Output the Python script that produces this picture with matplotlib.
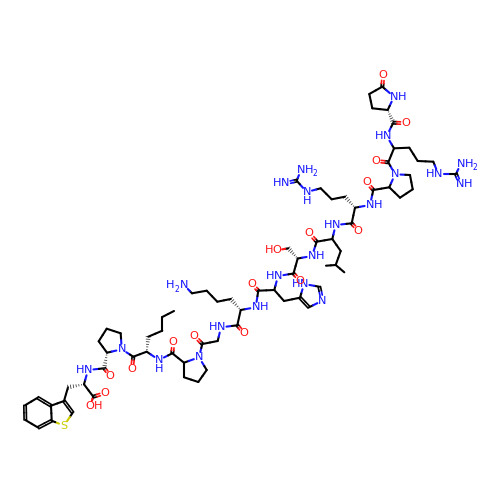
import matplotlib
matplotlib.use('Agg')
import matplotlib.pyplot as plt
import numpy as np

# --- Atoms: id, x, y (image pixels), label ---
atom_ids = [
    # benzothiophene + Ala backbone
    'a1','a2','a3','a4','a5','a6','c3','c2','s1','cb1','ca1','c1','o1','oh1','n1',
    # Pro
    'c2p','o2p','ca2','n2','cd2','cg2','cb2',
    # Nle
    'c3p','o3p','ca3','n3','cb3','cg3','cd3','ce3',
    # Pro
    'c4p','o4p','ca4','n4','cd4','cg4','cb4',
    # Gly
    'c5p','o5p','ca5','n5',
    # Lys
    'c6p','o6p','ca6','n6','cb6','cg6','cd6','ce6','nz6',
    # His
    'c7p','o7p','ca7','n7','cb7','cg7','cd7','ne7','ce7','nd7',
    # Ser
    'c8p','o8p','ca8','n8','cb8','og8',
    # Leu
    'c9p','o9p','ca9','n9','cb9','cg9','cd9','ce9',
    # Arg
    'c10p','o10p','ca10','n10','cb10','cg10','cd10','ne10','cz10','nh10','nn10',
    # Pro
    'c11p','o11p','ca11','n11','cd11','cg11','cb11',
    # Arg
    'c12p','o12p','ca12','n12','cb12','cg12','cd12','ne12','cz12','nh12','nn12',
    # pyroglu
    'c13p','o13p','ca13','cb13','cg13','cd13','o14','n13',
]
atom_x = [
    37.7,51,51.7,38.3,25.3,25,64,72.7,64,68,84,93.3,105.3,90,88,
    104.3,110.3,107,121.7,120.7,106.7,98.7,
    133.3,132,146.7,159,148.3,162.3,162.3,174,
    172.3,173.3,184,199,206.7,198.3,184,
    202.3,194.3,217.7,221,
    237.3,244,240.7,255.7,230.7,217.3,206.7,192,184,
    258.3,252,274.3,278,284,300,309,322.3,319.3,304,
    293.5,300,297.7,312,288.3,276.7,
    316.7,309.3,332.3,335.7,340.7,335.7,326,344.3,
    351.7,358.3,355,370,345,331.7,320.7,306.7,296.7,301,285,
    373.3,366.7,389.3,395,410,412.7,400,
    388.3,375.7,394,386.7,409.3,417.7,433.3,438.3,456,460.7,460.3,
    393.3,406,387.7,372.3,369.3,382.3,383.3,394,
]
atom_y = [
    397.7,405.7,420.7,427.7,420,405.3,401,412.7,425.7,387.3,384.3,396.7,393,406,370,
    368.3,376,352.7,349.3,333.3,328.7,341.3,
    356.7,369.3,351.7,360,336.7,330.7,317,311,
    353.3,342.3,362.7,357.3,370,382,377.3,
    344,335.7,341,327.3,
    325.3,333.3,310,307.3,299,301.7,290.7,293.3,285,
    290.7,284.3,290,276,301,297.7,307.3,300.7,286.7,284,
    273.5,280.5,258.5,256,248.3,250.3,
    241.7,233.3,239,225,251,265,265.7,272.3,
    223.3,230.7,207.7,205,196.7,199.3,188.3,192,180.7,170,183.3,
    190,182.3,187.3,174.3,175,189.3,197.7,
    162.3,161,148.3,136,147.7,161,161.7,174,174,164,184.3,
    122.7,123.3,110,108.3,94,86.7,75,96.7,
]
# label kinds of the heteroatoms
atom_labels = {
    's1':'S','o1':'O','oh1':'OH','n1':'HN','o2p':'O','n2':'N','o3p':'O','n3':'NHd',
    'o4p':'O','n4':'N','o5p':'O','n5':'HN','o6p':'O','n6':'NH','nz6':'H2N','o7p':'O',
    'n7':'HN','ne7':'N','nd7':'HN','o8p':'O','n8':'NH','og8':'HO','o9p':'O','n9':'HN',
    'o10p':'O','n10':'NH','ne10':'NHd','nh10':'NH2','nn10':'HN','o11p':'O','n11':'N',
    'o12p':'O','n12':'HN','ne12':'HN','nh12':'NH2','nn12':'NH','o13p':'O','o14':'O',
    'n13':'NH',
}

# --- Bonds: begin, end, type (1 single, 2 double, 'h' hashed wedge from begin) ---
bond_list = [
    ('a1','a2',2),('a2','a3',1),('a3','a4',2),('a4','a5',1),('a5','a6',2),('a6','a1',1),
    ('a2','c3',1),('c3','c2',2),('c2','s1',1),('s1','a3',1),('c3','cb1',1),
    ('ca1','cb1','h'),('ca1','c1',1),('c1','o1',2),('c1','oh1',1),('ca1','n1',1),
    ('n1','c2p',1),('c2p','o2p',2),('ca2','c2p','h'),('ca2','n2',1),('n2','cd2',1),
    ('cd2','cg2',1),('cg2','cb2',1),('cb2','ca2',1),
    ('n2','c3p',1),('c3p','o3p',2),('c3p','ca3',1),('ca3','n3',1),('ca3','cb3','h'),
    ('cb3','cg3',1),('cg3','cd3',1),('cd3','ce3',1),
    ('n3','c4p',1),('c4p','o4p',2),('c4p','ca4',1),('ca4','n4',1),('n4','cd4',1),
    ('cd4','cg4',1),('cg4','cb4',1),('cb4','ca4',1),
    ('n4','c5p',1),('c5p','o5p',2),('c5p','ca5',1),('ca5','n5',1),
    ('n5','c6p',1),('c6p','o6p',2),('c6p','ca6',1),('ca6','n6',1),('ca6','cb6','h'),
    ('cb6','cg6',1),('cg6','cd6',1),('cd6','ce6',1),('ce6','nz6',1),
    ('n6','c7p',1),('c7p','o7p',2),('c7p','ca7',1),('ca7','n7',1),('ca7','cb7',1),
    ('cb7','cg7',1),('cg7','cd7',2),('cd7','ne7',1),('ne7','ce7',2),('ce7','nd7',1),('nd7','cg7',1),
    ('n7','c8p',1),('c8p','o8p',2),('c8p','ca8',1),('ca8','n8',1),('ca8','cb8','h'),('cb8','og8',1),
    ('n8','c9p',1),('c9p','o9p',2),('c9p','ca9',1),('ca9','n9',1),('ca9','cb9',1),
    ('cb9','cg9',1),('cg9','cd9',1),('cg9','ce9',1),
    ('n9','c10p',1),('c10p','o10p',2),('c10p','ca10',1),('ca10','n10',1),('ca10','cb10','h'),
    ('cb10','cg10',1),('cg10','cd10',1),('cd10','ne10',1),('ne10','cz10',1),('cz10','nh10',1),('cz10','nn10',2),
    ('n10','c11p',1),('c11p','o11p',2),('c11p','ca11',1),('ca11','n11',1),('n11','cd11',1),
    ('cd11','cg11',1),('cg11','cb11',1),('cb11','ca11',1),
    ('n11','c12p',1),('c12p','o12p',2),('c12p','ca12',1),('ca12','n12',1),('ca12','cb12',1),
    ('cb12','cg12',1),('cg12','cd12',1),('cd12','ne12',1),('ne12','cz12',1),('cz12','nh12',1),('cz12','nn12',2),
    ('n12','c13p',1),('c13p','o13p',2),('ca13','c13p','h'),('ca13','cb13',1),('cb13','cg13',1),
    ('cg13','cd13',1),('cd13','o14',2),('cd13','n13',1),('n13','ca13',1),
]

BLUE = '#1414ff'
RED = '#ff1414'
YELLOW = '#cccc00'
FS = 8.1
STEP = 8.0
pos = {k: np.array([x, y]) for k, x, y in zip(atom_ids, atom_x, atom_y)}


def atom_color(a):
    lab = atom_labels.get(a)
    if lab is None:
        return 'black'
    if lab[0] == 'S':
        return YELLOW
    if 'O' in lab:
        return RED
    return BLUE


def clipped(a, b):
    # pull the ends back from labelled atoms
    p, q = pos[a], pos[b]
    d = (q - p) / np.hypot(*(q - p))
    if a in atom_labels:
        p = p + d * 5.5
    if b in atom_labels:
        q = q - d * 5.5
    return p, q


def half_line(ax, p, q, ca, cb, lw=1.5):
    m = (p + q) / 2
    ax.plot([p[0], m[0]], [p[1], m[1]], color=ca, lw=lw, solid_capstyle='round')
    ax.plot([m[0], q[0]], [m[1], q[1]], color=cb, lw=lw, solid_capstyle='round')


fig = plt.figure(figsize=(5, 5), dpi=100)
ax = fig.add_axes([0, 0, 1, 1])
ax.set_xlim(0, 500)
ax.set_ylim(500, 0)
ax.axis('off')

# --- Bonds ---
for a, b, kind in bond_list:
    p, q = clipped(a, b)
    ca, cb = atom_color(a), atom_color(b)
    d = q - p
    n = np.array([-d[1], d[0]]) / np.hypot(*d)
    if kind == 'h':
        # hashed wedge widening away from the stereo centre
        for t in np.linspace(0.15, 1.0, 6):
            c = p + d * t
            w = 2.2 * t
            ax.plot([c[0] - n[0] * w, c[0] + n[0] * w], [c[1] - n[1] * w, c[1] + n[1] * w],
                    color='#333333', lw=0.55)
    elif kind == 2:
        off = 1.2
        half_line(ax, p + n * off, q + n * off, ca, cb, lw=1.2)
        half_line(ax, p - n * off, q - n * off, ca, cb, lw=1.2)
    else:
        half_line(ax, p, q, ca, cb)


# --- Atom labels ---
def put(x, y, s, color, size=FS):
    ax.text(x, y, s, color=color, fontsize=size, ha='center', va='center', family='DejaVu Sans')


for a, lab in atom_labels.items():
    x, y = pos[a]
    c = atom_color(a)
    if lab in ('O', 'N', 'S'):
        put(x, y, lab, c)
    elif lab == 'OH':
        put(x, y, 'O', c)
        put(x + STEP, y, 'H', c)
    elif lab == 'HO':
        put(x, y, 'O', c)
        put(x - STEP, y, 'H', c)
    elif lab == 'HN':
        put(x, y, 'N', c)
        put(x - STEP, y, 'H', c)
    elif lab == 'NH':
        put(x, y, 'N', c)
        put(x + STEP, y, 'H', c)
    elif lab == 'NHd':
        put(x, y, 'N', c)
        put(x, y + 9, 'H', c)
    elif lab == 'NH2':
        put(x, y, 'N', c)
        put(x + STEP, y, 'H', c)
        put(x + 14, y + 4, '2', c, 5.5)
    elif lab == 'H2N':
        put(x, y, 'N', c)
        put(x - 14, y, 'H', c)
        put(x - 7.5, y + 4, '2', c, 5.5)

fig.savefig('out.png', dpi=100)
